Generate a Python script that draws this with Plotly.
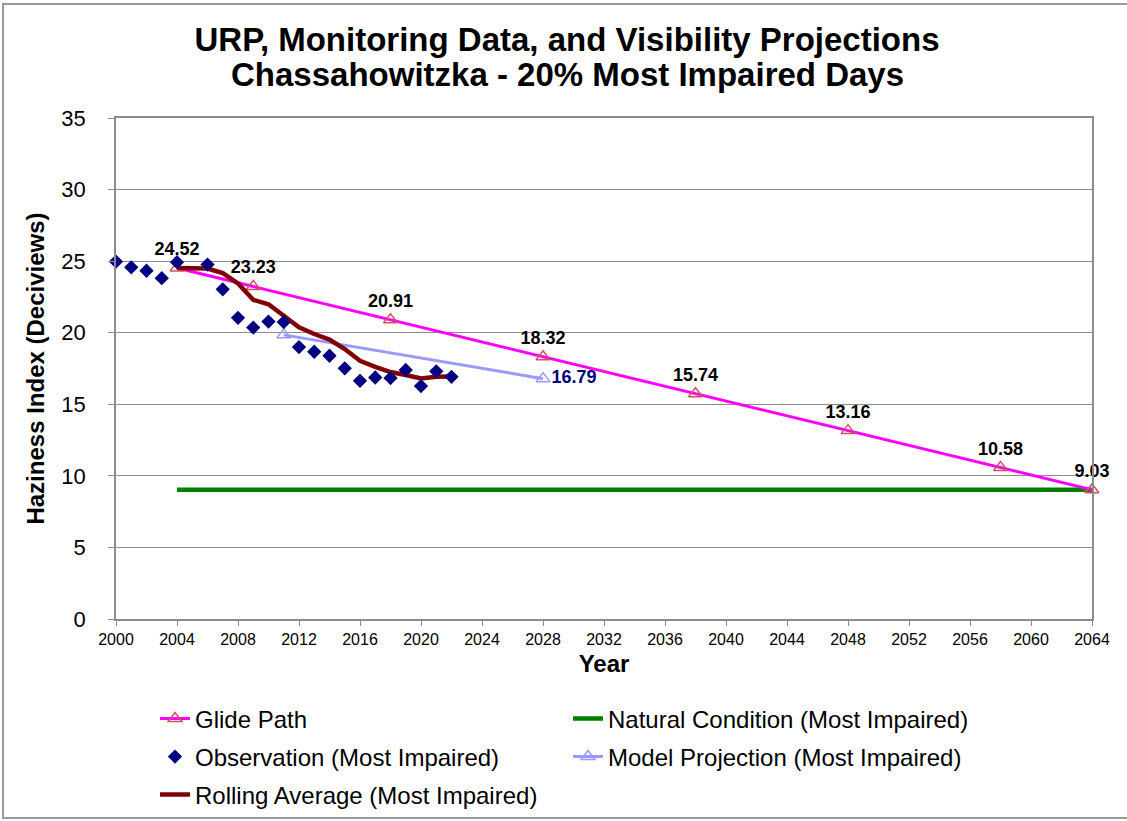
import plotly.graph_objects as go

# ---------------- data ----------------
obs_years = [2000, 2001, 2002, 2003, 2004, 2006, 2007, 2008, 2009, 2010, 2011,
             2012, 2013, 2014, 2015, 2016, 2017, 2018, 2019, 2020, 2021, 2022]
obs_values = [24.97, 24.57, 24.33, 23.81, 24.93, 24.76, 23.03, 21.04, 20.36, 20.78, 20.74,
              19.00, 18.67, 18.39, 17.51, 16.64, 16.87, 16.83, 17.40, 16.27, 17.30, 16.92]

roll_years = [2004, 2005, 2006, 2007, 2008, 2009, 2010, 2011, 2012, 2013,
              2014, 2015, 2016, 2017, 2018, 2019, 2020, 2021, 2022]
roll_values = [24.52, 24.52, 24.48, 24.17, 23.44, 22.30, 21.99, 21.19, 20.38, 19.91,
               19.52, 18.86, 18.04, 17.62, 17.25, 17.05, 16.80, 16.93, 16.94]

glide_years = [2004, 2009, 2018, 2028, 2038, 2048, 2058, 2064]
glide_values = [24.52, 23.23, 20.91, 18.32, 15.74, 13.16, 10.58, 9.03]

model_years = [2011, 2028]
model_values = [19.85, 16.79]

natural_years = [2004, 2064]
natural_values = [9.03, 9.03]

x_ticks = list(range(2000, 2065, 4))
y_ticks = list(range(0, 36, 5))

title_lines = ["URP, Monitoring Data, and Visibility Projections",
               "Chassahowitzka - 20% Most Impaired Days"]

FONT = "Liberation Sans, Arial, sans-serif"

# ---------------- geometry helpers ----------------
W, H = 1127, 821
L, R, T, B = 116, 35, 118, 202
PW, PH = W - L - R, H - T - B


def px_x(p):
    return (p - L) / PW


def px_y(p):
    return (H - B - p) / PH


fig = go.Figure()

fig.add_trace(go.Scatter(
    x=natural_years, y=natural_values, mode="lines",
    name="Natural Condition (Most Impaired)",
    line=dict(color="#008000", width=4.5),
    legend="legend",
))

fig.add_trace(go.Scatter(
    x=model_years, y=model_values, mode="lines+markers+text",
    name="Model Projection (Most Impaired)",
    line=dict(color="#9999FF", width=3),
    marker=dict(symbol="triangle-up-open", size=12, color="#9999FF",
                line=dict(width=1.5, color="#9999FF")),
    text=["" if i < len(model_values) - 1 else f"{v:.2f}" for i, v in enumerate(model_values)],
    textposition="middle right",
    textfont=dict(family=FONT, size=18, color="#000080", weight="bold"),
    legend="legend2",
))

fig.add_trace(go.Scatter(
    x=glide_years, y=glide_values, mode="lines+markers+text",
    name="Glide Path",
    line=dict(color="#FF00FF", width=3),
    marker=dict(symbol="triangle-up-open", size=12, color="#D0545A",
                line=dict(width=1.5, color="#D0545A")),
    text=[f"{v:.2f}" for v in glide_values],
    textposition="top center",
    textfont=dict(family=FONT, size=18, color="black", weight="bold"),
    cliponaxis=False,
    legend="legend",
    legendrank=1,
))

fig.add_trace(go.Scatter(
    x=roll_years, y=roll_values, mode="lines",
    name="Rolling Average (Most Impaired)",
    line=dict(color="#800000", width=4.5),
    legend="legend3",
))

fig.add_trace(go.Scatter(
    x=obs_years, y=obs_values, mode="markers",
    name="Observation (Most Impaired)",
    marker=dict(symbol="diamond", size=11, color="#000080"),
    cliponaxis=False,
    legend="legend2",
    legendrank=1,
))

legend_common = dict(
    orientation="h", xanchor="left", yanchor="middle",
    font=dict(family=FONT, size=24, color="black"),
    bgcolor="rgba(0,0,0,0)", entrywidth=368, entrywidthmode="pixels",
    traceorder="normal",
)

fig.update_layout(
    width=W, height=H,
    margin=dict(l=L, r=R, t=T, b=B, autoexpand=False),
    paper_bgcolor="white", plot_bgcolor="white",
    font=dict(family=FONT, color="black"),
    title=dict(
        text="<b>" + title_lines[0] + "</b>",
        x=567 / W, xref="container", xanchor="center",
        y=1 - 39 / H, yref="container", yanchor="middle",
        font=dict(family=FONT, size=33, color="black"),
    ),
    annotations=[dict(
        text="<b>" + title_lines[1] + "</b>",
        xref="paper", yref="paper", x=px_x(567), y=px_y(75),
        xanchor="center", yanchor="middle", showarrow=False,
        font=dict(family=FONT, size=33, color="black"),
    )],
    xaxis=dict(
        range=[2000, 2064], tickmode="array", tickvals=x_ticks,
        ticktext=[str(t) for t in x_ticks],
        showgrid=False, zeroline=False, automargin=False,
        showline=True, linecolor="#8c8c8c", linewidth=1.5, mirror=True,
        ticks="outside", ticklen=5, tickcolor="#8c8c8c",
        tickfont=dict(family=FONT, size=16, color="black"),
        title=dict(text="<b>Year</b>", font=dict(family=FONT, size=24, color="black"),
                   standoff=8),
    ),
    yaxis=dict(
        range=[0, 35], tickmode="array", tickvals=y_ticks,
        showgrid=True, gridcolor="#8c8c8c", gridwidth=1.2, zeroline=False,
        automargin=False,
        showline=True, linecolor="#8c8c8c", linewidth=1.5, mirror=True,
        ticks="outside", ticklen=6, tickcolor="#8c8c8c",
        tickfont=dict(family=FONT, size=22, color="black"),
        ticklabelstandoff=18,
        title=dict(text="<b>Haziness Index (Deciviews)</b>",
                   font=dict(family=FONT, size=24, color="black"), standoff=10),
    ),
    legend=dict(x=px_x(155), y=px_y(719), **legend_common),
    legend2=dict(x=px_x(155), y=px_y(757), **legend_common),
    legend3=dict(x=px_x(155), y=px_y(795), **legend_common),
    shapes=[dict(
        type="rect", xref="paper", yref="paper",
        x0=px_x(3), x1=px_x(1135), y0=px_y(818), y1=px_y(4),
        line=dict(color="#9a9a9a", width=2), fillcolor="rgba(0,0,0,0)", layer="below",
    )],
)

fig.write_html(
    "out.html",
    config={"displayModeBar": False},
    post_script="document.body.style.margin='0';document.body.style.padding='0';",
)
